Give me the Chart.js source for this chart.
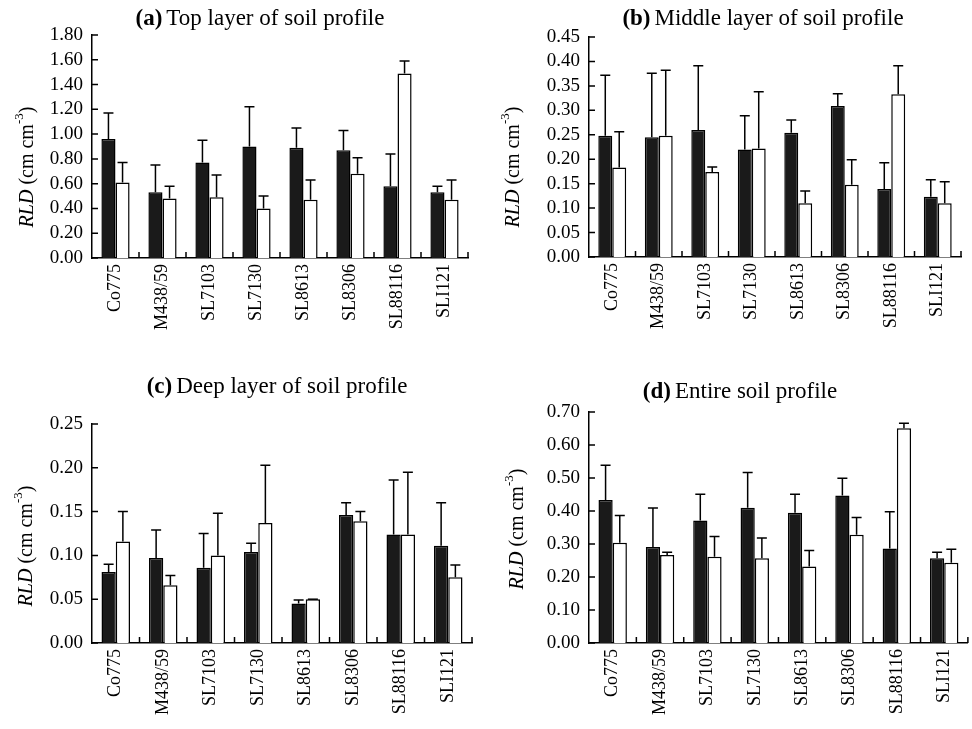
<!DOCTYPE html>
<html>
<head>
<meta charset="utf-8">
<script src="https://cdn.jsdelivr.net/npm/chart.js@4.4.1/dist/chart.umd.min.js"></script>
<style>
  body { margin: 0; background: #fff; width: 972px; height: 729px; position: relative; overflow: hidden; }
  .panel { position: absolute; }
</style>
</head>
<body>
<div class="panel" style="left:0;top:0;width:486px;height:365px"><canvas id="chartTop"></canvas></div>
<div class="panel" style="left:486px;top:0;width:486px;height:365px"><canvas id="chartMiddle"></canvas></div>
<div class="panel" style="left:0;top:365px;width:486px;height:364px"><canvas id="chartDeep"></canvas></div>
<div class="panel" style="left:486px;top:365px;width:486px;height:364px"><canvas id="chartEntire"></canvas></div>
<script>
// cultivars on the x axis
const cultivars = ['Co775', 'M438/59', 'SL7103', 'SL7130', 'SL8613', 'SL8306', 'SL88116', 'SLI121'];

// (a) top layer - black and white bars, with upper error (SD)
const topBlack = [0.96, 0.53, 0.77, 0.90, 0.89, 0.87, 0.58, 0.53];
const topBlackSd = [0.21, 0.22, 0.18, 0.32, 0.16, 0.16, 0.26, 0.05];
const topWhite = [0.61, 0.48, 0.49, 0.40, 0.47, 0.68, 1.49, 0.47];
const topWhiteSd = [0.16, 0.10, 0.18, 0.10, 0.16, 0.13, 0.10, 0.16];

// (b) middle layer
const midBlack = [0.248, 0.245, 0.260, 0.220, 0.254, 0.309, 0.139, 0.123];
const midBlackSd = [0.124, 0.131, 0.131, 0.069, 0.026, 0.025, 0.054, 0.035];
const midWhite = [0.183, 0.248, 0.174, 0.222, 0.110, 0.148, 0.333, 0.110];
const midWhiteSd = [0.073, 0.134, 0.010, 0.116, 0.025, 0.051, 0.058, 0.044];

// (c) deep layer
const deepBlack = [0.081, 0.097, 0.086, 0.104, 0.045, 0.146, 0.124, 0.111];
const deepBlackSd = [0.009, 0.032, 0.039, 0.010, 0.004, 0.014, 0.062, 0.049];
const deepWhite = [0.116, 0.066, 0.100, 0.137, 0.050, 0.139, 0.124, 0.075];
const deepWhiteSd = [0.034, 0.011, 0.048, 0.066, 0.000, 0.011, 0.071, 0.014];

// (d) entire profile
const allBlack = [0.433, 0.291, 0.371, 0.410, 0.395, 0.447, 0.286, 0.257];
const allBlackSd = [0.106, 0.118, 0.080, 0.107, 0.056, 0.052, 0.112, 0.018];
const allWhite = [0.304, 0.267, 0.261, 0.257, 0.232, 0.328, 0.651, 0.243];
const allWhiteSd = [0.082, 0.008, 0.062, 0.061, 0.048, 0.052, 0.015, 0.041];

// y axis ranges
const yMax = [1.80, 0.45, 0.25, 0.70];
const yStep = [0.20, 0.05, 0.05, 0.10];

const FONT = "'Liberation Serif', 'Times New Roman', serif";

// draws panel title, y title, inward ticks and error bars
const panelDecor = {
    id: 'panelDecor',
    afterDatasetsDraw(chart) {
        const ctx = chart.ctx;
        const area = chart.chartArea;
        const x = chart.scales.x;
        const y = chart.scales.y;
        const cfg = chart.options.plugins.panelDecor;

        ctx.save();
        ctx.strokeStyle = '#000';
        ctx.lineWidth = 1.5;

        // error bars (upper only, with cap)
        chart.data.datasets.forEach((ds, di) => {
            const meta = chart.getDatasetMeta(di);
            meta.data.forEach((bar, i) => {
                const top = y.getPixelForValue(ds.data[i] + ds.sd[i]);
                ctx.beginPath();
                ctx.moveTo(bar.x, bar.y);
                ctx.lineTo(bar.x, top);
                ctx.moveTo(bar.x - 5, top);
                ctx.lineTo(bar.x + 5, top);
                ctx.stroke();
            });
        });

        // inward ticks
        ctx.beginPath();
        y.ticks.forEach((t, i) => {
            const py = y.getPixelForTick(i);
            ctx.moveTo(area.left, py);
            ctx.lineTo(area.left + 6, py);
        });
        const n = cultivars.length;
        for (let i = 1; i <= n; i++) {
            const px = i < n ? (x.getPixelForTick(i - 1) + x.getPixelForTick(i)) / 2 : area.right;
            ctx.moveTo(px, area.bottom);
            ctx.lineTo(px, area.bottom - 6);
        }
        ctx.stroke();

        // title: bold letter + normal text
        ctx.fillStyle = '#000';
        ctx.textBaseline = 'alphabetic';
        ctx.font = 'bold 23px ' + FONT;
        const wA = ctx.measureText(cfg.letter).width;
        ctx.font = '23px ' + FONT;
        const wB = ctx.measureText(cfg.title).width;
        const gap = 4;
        let tx = cfg.titleX - (wA + gap + wB) / 2;
        ctx.font = 'bold 23px ' + FONT;
        ctx.fillText(cfg.letter, tx, cfg.titleY);
        ctx.font = '23px ' + FONT;
        ctx.fillText(cfg.title, tx + wA + gap, cfg.titleY);

        // y axis title: RLD (cm cm^-3)
        const parts = [
            { text: 'RLD', font: 'italic 20px ' + FONT, dy: 0 },
            { text: ' (cm cm', font: '20px ' + FONT, dy: 0 },
            { text: '-3', font: '13px ' + FONT, dy: -8 },
            { text: ')', font: '20px ' + FONT, dy: 0 }
        ];
        let total = 0;
        parts.forEach(p => { ctx.font = p.font; p.w = ctx.measureText(p.text).width; total += p.w; });
        ctx.translate(cfg.yTitleX, cfg.yTitleY);
        ctx.rotate(-Math.PI / 2);
        ctx.textBaseline = 'middle';
        let cx = -total / 2;
        parts.forEach(p => {
            ctx.font = p.font;
            ctx.fillText(p.text, cx, p.dy);
            cx += p.w;
        });
        ctx.restore();
    }
};

function makePanel(canvasId, idx, blackVals, blackSd, whiteVals, whiteSd, box, decor) {
    const ctx = document.getElementById(canvasId);
    return new Chart(ctx, {
        type: 'bar',
        data: {
            labels: cultivars,
            datasets: [{
                label: 'Black',
                data: blackVals,
                sd: blackSd,
                backgroundColor: '#1a1a1a',
                borderColor: '#000',
                borderWidth: 1.5,
                categoryPercentage: 0.6,
                barPercentage: 1.0
            }, {
                label: 'White',
                data: whiteVals,
                sd: whiteSd,
                backgroundColor: '#fff',
                borderColor: '#000',
                borderWidth: 1.5,
                categoryPercentage: 0.6,
                barPercentage: 1.0
            }]
        },
        options: {
            responsive: true,
            maintainAspectRatio: false,
            animation: false,
            layout: {
                padding: { left: 0, top: box.top, right: box.w - box.right, bottom: 0 }
            },
            plugins: {
                legend: { display: false },
                tooltip: { enabled: false },
                panelDecor: decor
            },
            scales: {
                x: {
                    offset: true,
                    grid: { display: false, drawTicks: false },
                    border: { display: true, color: '#000', width: 1.5 },
                    ticks: {
                        color: '#000',
                        font: { family: FONT, size: 18 },
                        minRotation: 90,
                        maxRotation: 90,
                        autoSkip: false,
                        padding: 6
                    },
                    afterFit: (s) => { s.height = box.h - box.bottom; }
                },
                y: {
                    min: 0,
                    max: yMax[idx],
                    grid: { display: false, drawTicks: false },
                    border: { display: true, color: '#000', width: 1.5 },
                    ticks: {
                        stepSize: yStep[idx],
                        autoSkip: false,
                        color: '#000',
                        font: { family: FONT, size: 19 },
                        padding: 9,
                        callback: (v) => v.toFixed(2)
                    },
                    afterFit: (s) => { s.width = box.left; }
                }
            }
        },
        plugins: [panelDecor]
    });
}

makePanel('chartTop', 0, topBlack, topBlackSd, topWhite, topWhiteSd,
    { left: 92, right: 468, top: 35, bottom: 258, w: 486, h: 365 },
    { letter: '(a)', title: 'Top layer of soil profile', titleX: 260, titleY: 25, yTitleX: 28, yTitleY: 167 });
makePanel('chartMiddle', 1, midBlack, midBlackSd, midWhite, midWhiteSd,
    { left: 103, right: 475, top: 37, bottom: 257, w: 486, h: 365 },
    { letter: '(b)', title: 'Middle layer of soil profile', titleX: 277, titleY: 25, yTitleX: 28, yTitleY: 167 });
makePanel('chartDeep', 2, deepBlack, deepBlackSd, deepWhite, deepWhiteSd,
    { left: 92, right: 472, top: 59, bottom: 278, w: 486, h: 364 },
    { letter: '(c)', title: 'Deep layer of soil profile', titleX: 277, titleY: 28, yTitleX: 27, yTitleY: 181 });
makePanel('chartEntire', 3, allBlack, allBlackSd, allWhite, allWhiteSd,
    { left: 103, right: 483, top: 47, bottom: 278, w: 486, h: 364 },
    { letter: '(d)', title: 'Entire soil profile', titleX: 254, titleY: 33, yTitleX: 32, yTitleY: 164 });
</script>
</body>
</html>
